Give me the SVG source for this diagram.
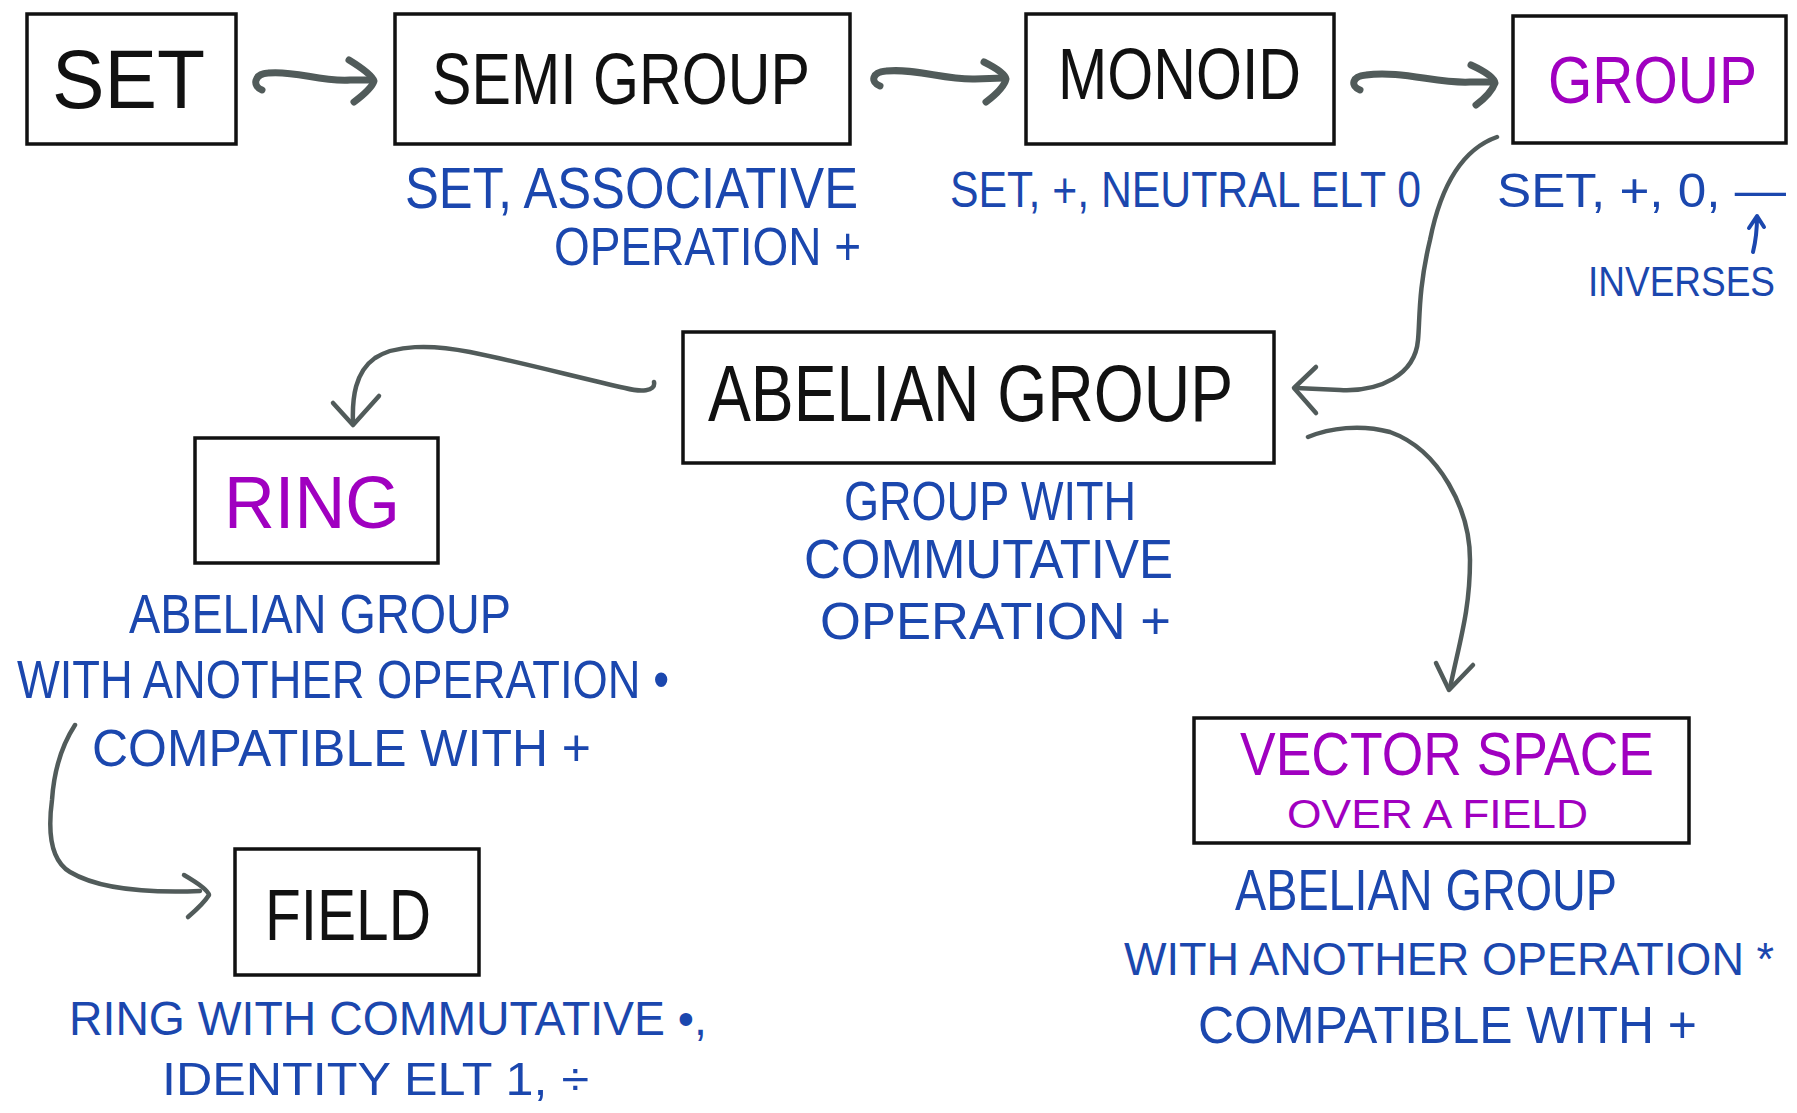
<svg xmlns="http://www.w3.org/2000/svg" width="1797" height="1113" viewBox="0 0 1797 1113">
<style>
.box{fill:#fff;stroke:#111;stroke-width:3.5}
.t{font-family:"Liberation Sans Narrow","Liberation Sans",sans-serif;}
.k{fill:#111}
.p{fill:#a000c0}
.b{fill:#1b47ae}
.c{fill:none;stroke:#515b5a;stroke-linecap:round;stroke-linejoin:round}
.thick{stroke-width:7}
.thin{stroke-width:4.5}
</style>
<rect width="1797" height="1113" fill="#fff"/>
<g id="connectors">
<path class="c thick" d="M262,90 C252,86 254,74 268,73 C295,70 320,82 350,80 L372,80"/>
<path class="c thick" d="M349,60 C362,68 372,75 374,81 C372,88 362,96 354,102"/>
<path class="c thick" d="M880,86 C870,82 872,72 886,71 C915,68 945,80 975,79 L1004,78"/>
<path class="c thick" d="M984,62 C996,68 1005,74 1006,79 C1004,88 994,96 986,102"/>
<path class="c thick" d="M1360,90 C1350,86 1352,76 1366,75 C1400,70 1440,84 1470,82 L1493,82"/>
<path class="c thick" d="M1471,65 C1484,71 1494,77 1495,83 C1492,91 1484,99 1476,105"/>
<path class="c thin" d="M1497,137 C1460,150 1440,190 1430,240 C1418,290 1420,320 1418,340 C1415,375 1380,392 1340,390 L1296,388"/>
<path class="c thin" d="M1316,367 L1294,388 L1316,413"/>
<path class="c thin" d="M1308,437 C1330,428 1360,424 1390,432 C1440,450 1470,510 1470,560 C1470,610 1460,640 1450,688"/>
<path class="c thin" d="M1436,663 L1449,690 L1473,665"/>
<path class="c thin" d="M654,382 C656,392 640,392 625,388 C580,378 520,362 470,352 C430,344 395,345 375,358 C355,372 352,398 353,423"/>
<path class="c thin" d="M333,403 L353,425 L379,396"/>
<path class="c thin" d="M75,725 C62,745 54,770 52,800 C48,830 50,860 70,872 C100,890 150,893 200,891"/>
<path class="c thin" d="M184,875 C196,882 208,890 209,895 C204,903 195,911 188,917"/>
</g>
<g id="set">
<rect class="box" x="27" y="14" width="209" height="130"/>
<text class="t k" x="52" y="108" font-size="84" textLength="153" lengthAdjust="spacingAndGlyphs">SET</text>
</g>
<g id="semigroup">
<rect class="box" x="395" y="14" width="455" height="130"/>
<text class="t k" x="432" y="104" font-size="72" textLength="378" lengthAdjust="spacingAndGlyphs">SEMI GROUP</text>
<text class="t b" x="405" y="208" font-size="58" textLength="453" lengthAdjust="spacingAndGlyphs">SET, ASSOCIATIVE</text>
<text class="t b" x="554" y="265" font-size="54" textLength="307" lengthAdjust="spacingAndGlyphs">OPERATION +</text>
</g>
<g id="monoid">
<rect class="box" x="1026" y="14" width="308" height="130"/>
<text class="t k" x="1058" y="99" font-size="72" textLength="243" lengthAdjust="spacingAndGlyphs">MONOID</text>
<text class="t b" x="950" y="207" font-size="50" textLength="471" lengthAdjust="spacingAndGlyphs">SET, +, NEUTRAL ELT 0</text>
</g>
<g id="group">
<rect class="box" x="1513" y="16" width="273" height="127"/>
<text class="t p" x="1548" y="103" font-size="66" textLength="209" lengthAdjust="spacingAndGlyphs">GROUP</text>
<text class="t b" x="1497" y="207" font-size="48" textLength="289" lengthAdjust="spacingAndGlyphs">SET, +, 0, —</text>
<path d="M1753,252 C1756,240 1757,228 1757,217 M1749,228 L1757,216 L1764,227" fill="none" stroke="#1b47ae" stroke-width="4" stroke-linecap="round" stroke-linejoin="round"/>
<text class="t b" x="1588" y="296" font-size="42" textLength="187" lengthAdjust="spacingAndGlyphs">INVERSES</text>
</g>
<g id="abelian">
<rect class="box" x="683" y="332" width="591" height="131"/>
<text class="t k" x="708" y="421" font-size="80" textLength="525" lengthAdjust="spacingAndGlyphs">ABELIAN  GROUP</text>
<text class="t b" x="844" y="520" font-size="56" textLength="292" lengthAdjust="spacingAndGlyphs">GROUP WITH</text>
<text class="t b" x="804" y="578" font-size="56" textLength="369" lengthAdjust="spacingAndGlyphs">COMMUTATIVE</text>
<text class="t b" x="820" y="639" font-size="52" textLength="351" lengthAdjust="spacingAndGlyphs">OPERATION +</text>
</g>
<g id="ring">
<rect class="box" x="195" y="438" width="243" height="125"/>
<text class="t p" x="224" y="528" font-size="74" textLength="176" lengthAdjust="spacingAndGlyphs">RING</text>
<text class="t b" x="129" y="633" font-size="56" textLength="382" lengthAdjust="spacingAndGlyphs">ABELIAN GROUP</text>
<text class="t b" x="17" y="698" font-size="54" textLength="652" lengthAdjust="spacingAndGlyphs">WITH ANOTHER OPERATION •</text>
<text class="t b" x="92" y="766" font-size="52" textLength="499" lengthAdjust="spacingAndGlyphs">COMPATIBLE WITH +</text>
</g>
<g id="field">
<rect class="box" x="235" y="849" width="244" height="126"/>
<text class="t k" x="265" y="940" font-size="72" textLength="166" lengthAdjust="spacingAndGlyphs">FIELD</text>
<text class="t b" x="69" y="1035" font-size="48" textLength="638" lengthAdjust="spacingAndGlyphs">RING WITH COMMUTATIVE •,</text>
<text class="t b" x="162" y="1095" font-size="46" textLength="427" lengthAdjust="spacingAndGlyphs">IDENTITY ELT 1, ÷</text>
</g>
<g id="vectorspace">
<rect class="box" x="1194" y="718" width="495" height="125"/>
<text class="t p" x="1240" y="775" font-size="62" textLength="414" lengthAdjust="spacingAndGlyphs">VECTOR SPACE</text>
<text class="t p" x="1287" y="828" font-size="40" textLength="301" lengthAdjust="spacingAndGlyphs">OVER A FIELD</text>
<text class="t b" x="1235" y="910" font-size="58" textLength="382" lengthAdjust="spacingAndGlyphs">ABELIAN GROUP</text>
<text class="t b" x="1124" y="975" font-size="46" textLength="650" lengthAdjust="spacingAndGlyphs">WITH ANOTHER OPERATION *</text>
<text class="t b" x="1198" y="1043" font-size="52" textLength="499" lengthAdjust="spacingAndGlyphs">COMPATIBLE WITH +</text>
</g>
</svg>
